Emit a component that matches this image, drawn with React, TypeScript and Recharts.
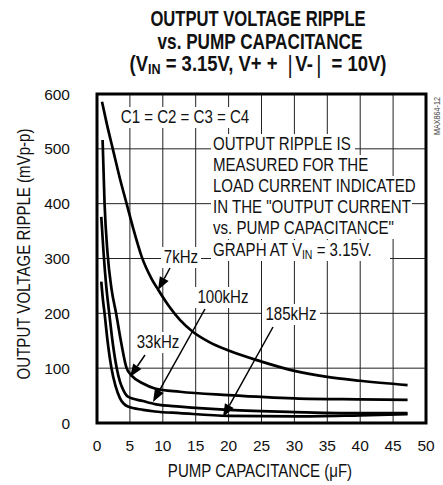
import React from "react";
import { LineChart, Line, XAxis, YAxis, CartesianGrid, ReferenceArea } from "recharts";

const xTicks = [0, 5, 10, 15, 20, 25, 30, 35, 40, 45, 50];
const yTicks = [0, 100, 200, 300, 400, 500, 600];

const cap7k = [0.76, 1.5, 2.4, 3.5, 4.5, 5.5, 6.8, 8.3, 9.3, 11, 12.6, 14.6, 17, 20, 25, 30, 35, 40, 47.2];
const ripple7k = [586, 545, 500, 445, 400, 355, 303, 263, 243, 212, 188, 166, 148, 132, 112, 95, 84, 77, 69];

const cap33k = [0.85, 1.15, 1.6, 2.2, 2.9, 3.7, 4.5, 5.3, 7, 8.8, 12.6, 20, 30, 40, 47.2];
const ripple33k = [516, 400, 310, 245, 200, 145, 100, 86, 72, 63, 57, 51, 45, 43, 42];

const cap100k = [0.65, 1.0, 1.4, 1.86, 2.4, 3.0, 3.5, 4.0, 4.7, 7, 9, 12.6, 20, 30, 40, 47.2];
const ripple100k = [376, 310, 250, 200, 145, 100, 75, 60, 48, 40, 34, 30, 24, 20, 18, 18];

const cap185k = [0.65, 0.9, 1.15, 1.6, 2.2, 2.8, 3.5, 4.7, 7, 8.8, 12.6, 20, 30, 40, 47.2];
const ripple185k = [258, 225, 200, 150, 100, 68, 45, 30, 24, 21, 18, 13, 12, 14, 16];

const toPoints = (xs: number[], ys: number[]) => xs.map((x, i) => ({ x, y: ys[i] }));

const series = [
  { name: "7kHz", data: toPoints(cap7k, ripple7k) },
  { name: "33kHz", data: toPoints(cap33k, ripple33k) },
  { name: "100kHz", data: toPoints(cap100k, ripple100k) },
  { name: "185kHz", data: toPoints(cap185k, ripple185k) },
];

const FONT = "'Liberation Sans', Arial, sans-serif";
const BODY = 18.6;
const SX = 0.81;

function NText({
  x,
  y,
  size = BODY,
  sx = SX,
  anchor = "start",
  weight = "normal",
  rotate,
  fill = "#111",
  children,
}: {
  x: number;
  y: number;
  size?: number;
  sx?: number;
  anchor?: "start" | "middle" | "end";
  weight?: string;
  rotate?: number;
  fill?: string;
  children: React.ReactNode;
}) {
  const t = `translate(${x},${y})${rotate !== undefined ? ` rotate(${rotate})` : ""} scale(${sx},1)`;
  return (
    <g transform={t}>
      <text x={0} y={0} textAnchor={anchor} fontSize={size} fontWeight={weight} fill={fill} fontFamily={FONT}>
        {children}
      </text>
    </g>
  );
}

function BoxLabel({ x, y, w, anchor = "middle", children }: { x: number; y: number; w: number; anchor?: "start" | "middle"; children: React.ReactNode }) {
  const left = anchor === "middle" ? x - w / 2 : x;
  return (
    <g>
      <rect x={left - 2} y={y - 16} width={w + 4} height={21} fill="#fff" />
      <NText x={x} y={y} anchor={anchor}>{children}</NText>
    </g>
  );
}

function Arrow({ x1, y1, x2, y2 }: { x1: number; y1: number; x2: number; y2: number }) {
  const ang = Math.atan2(y2 - y1, x2 - x1);
  const len = 13;
  const w = 5;
  const bx = x2 - len * Math.cos(ang);
  const by = y2 - len * Math.sin(ang);
  const px = -Math.sin(ang) * w;
  const py = Math.cos(ang) * w;
  return (
    <g>
      <line x1={x1} y1={y1} x2={bx} y2={by} stroke="#000" strokeWidth={1.5} />
      <polygon points={`${x2},${y2} ${bx + px},${by + py} ${bx - px},${by - py}`} fill="#000" />
    </g>
  );
}

const noteLines = [
  { text: "OUTPUT RIPPLE IS", w: 140 },
  { text: "MEASURED FOR THE", w: 154 },
  { text: "LOAD CURRENT INDICATED", w: 205 },
  { text: 'IN THE "OUTPUT CURRENT', w: 197 },
  { text: 'vs. PUMP CAPACITANCE"', w: 187 },
];

export default function App() {
  return (
    <div style={{ position: "absolute", left: 0, top: 0, width: 443, height: 485, background: "#fff" }}>
      <LineChart width={443} height={485} margin={{ top: 94, right: 17, bottom: 32, left: 37 }}>
        <CartesianGrid stroke="#222" strokeWidth={1} vertical horizontal />
        <XAxis
          type="number"
          dataKey="x"
          domain={[0, 50]}
          ticks={xTicks}
          interval={0}
          height={30}
          axisLine={false}
          tickLine={false}
          tickSize={0}
          tickMargin={17}
          tick={{ fill: "#111", fontSize: 15.5, fontFamily: FONT }}
          allowDataOverflow
        />
        <YAxis
          type="number"
          dataKey="y"
          domain={[0, 600]}
          ticks={yTicks}
          interval={0}
          width={60}
          axisLine={false}
          tickLine={false}
          tickSize={0}
          tickMargin={27}
          tick={{ fill: "#111", fontSize: 15.5, fontFamily: FONT }}
          allowDataOverflow
        />
        {series.map((s) => (
          <Line
            key={s.name}
            data={s.data}
            dataKey="y"
            type="monotone"
            stroke="#000"
            strokeWidth={2.7}
            dot={false}
            isAnimationActive={false}
          />
        ))}
        <ReferenceArea x1={0} x2={50} y1={0} y2={600} fill="none" stroke="#000" strokeWidth={3} ifOverflow="visible" />

        <g>
          <NText x={258} y={26} size={22} sx={0.755} weight="bold" anchor="middle">OUTPUT VOLTAGE RIPPLE</NText>
          <NText x={260} y={49} size={22} sx={0.78} weight="bold" anchor="middle">vs. PUMP CAPACITANCE</NText>
          <NText x={258} y={71} size={22} sx={0.84} weight="bold" anchor="middle">
            (V<tspan fontSize={15} dy={3}>IN</tspan>
            <tspan dy={-3}> = 3.15V, V+ + </tspan>
            <tspan fontWeight="normal" fontSize={24} dx={6} dy={2}>|</tspan>
            <tspan dx={3} dy={-2}>V-</tspan>
            <tspan fontWeight="normal" fontSize={24} dx={4} dy={2}>|</tspan>
            <tspan dx={6} dy={-2}> = 10V)</tspan>
          </NText>

          <NText x={30} y={254} rotate={-90} anchor="middle">OUTPUT VOLTAGE RIPPLE (mVp-p)</NText>
          <NText x={260} y={477} anchor="middle">PUMP CAPACITANCE (μF)</NText>

          <NText x={440} y={116} rotate={-90} size={9} sx={0.8} anchor="middle" fill="#444">MAX864-12</NText>

          <BoxLabel x={185} y={123} w={130}>C1 = C2 = C3 = C4</BoxLabel>

          {noteLines.map((l, i) => (
            <BoxLabel key={l.text} x={213} y={150 + i * 21} w={l.w} anchor="start">{l.text}</BoxLabel>
          ))}
          <BoxLabel x={213} y={256} w={175} anchor="start">
            GRAPH AT V<tspan fontSize={13} dy={3}>IN</tspan>
            <tspan dy={-3}> = 3.15V.</tspan>
          </BoxLabel>

          <BoxLabel x={181} y={263} w={36}>7kHz</BoxLabel>
          <BoxLabel x={158} y={348} w={44}>33kHz</BoxLabel>
          <BoxLabel x={223} y={303} w={53}>100kHz</BoxLabel>
          <BoxLabel x={291} y={320} w={54}>185kHz</BoxLabel>
        </g>

        <Arrow x1={170} y1={268} x2={158} y2={290} />
        <Arrow x1={145} y1={355} x2={130} y2={377} />
        <Arrow x1={205} y1={309} x2={153} y2={402} />
        <Arrow x1={273} y1={327} x2={223} y2={417} />
      </LineChart>
    </div>
  );
}
